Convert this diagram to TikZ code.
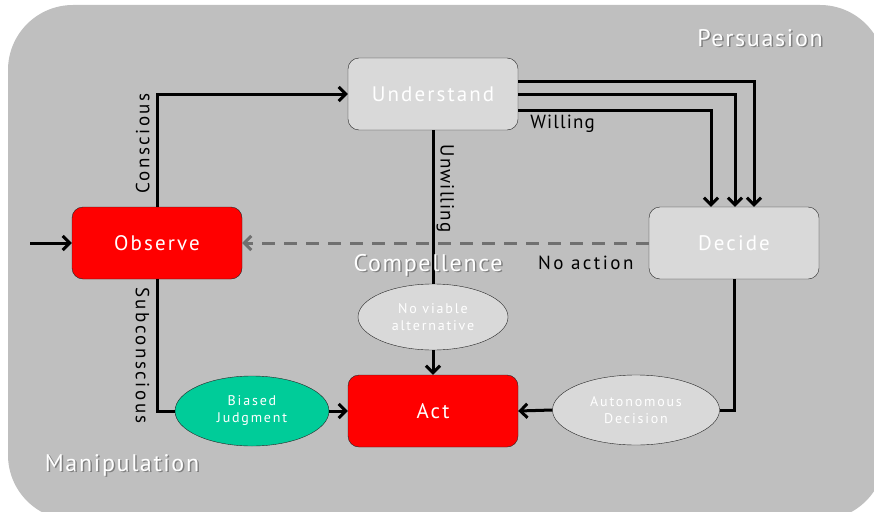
\documentclass[tikz,border=0pt]{standalone}
\usepackage{fontspec}
\setmainfont{PT Sans}
\usetikzlibrary{arrows.meta,positioning,shapes.geometric}

\definecolor{panelgray}{HTML}{BFBFBF}
\definecolor{boxgray}{HTML}{D9D9D9}
\definecolor{actred}{HTML}{FF0000}
\definecolor{biasgreen}{HTML}{00CC99}
\definecolor{dashgray}{HTML}{707070}

\tikzset{
  stage/.style={draw=black!85, thin, rounded corners=11pt, minimum width=170pt,
    minimum height=72pt, text=white,
    font=\fontsize{21}{23}\selectfont\addfontfeature{LetterSpace=10}},
  redstage/.style={stage, fill=actred},
  graystage/.style={stage, fill=boxgray},
  oval/.style={ellipse, draw=black!85, thin, fill=boxgray, text=white, align=center,
    inner sep=0pt, font=\fontsize{14}{17}\selectfont\addfontfeature{LetterSpace=13}},
  flow/.style={line width=3pt, -{Straight Barb[length=7pt,width=14pt,line width=3pt]}},
  edge/.style={line width=3pt},
  noaction/.style={line width=3pt, dashgray, dash pattern=on 13pt off 9pt,
    -{Straight Barb[length=7pt,width=14pt,line width=3pt]}},
  tag/.style={text=black, inner sep=2pt,
    font=\fontsize{19}{21}\selectfont\addfontfeature{LetterSpace=13}},
  tighttag/.style={tag, font=\fontsize{19}{21}\selectfont\addfontfeature{LetterSpace=6}},
  zone/.style={text=white, font=\fontsize{24}{26}\selectfont\addfontfeature{LetterSpace=7}},
  zoneshadow/.style={zone, text=black!50},
}
\newcommand{\zonelabel}[3]{%
  \node[zoneshadow] at ([shift={(1.5pt,-1.5pt)}]#1) {#3};
  \node[zone] (#2) at (#1) {#3};
}

\begin{document}
\begin{tikzpicture}[x=1pt, y=-1pt]
\useasboundingbox (0,0) rectangle (874,511);
% panel
\fill[panelgray, rounded corners=65pt] (8,5) rectangle (885,520);

% stages
\node[redstage] (observe) at (157,243) {Observe};
\node[graystage] (understand) at (433,94) {Understand};
\node[graystage] (decide) at (734,243) {Decide};
\node[redstage] (act) at (433,411) {Act};

% outcomes
\node[oval, minimum width=150pt, minimum height=66pt] (viable) at (433,317) {No viable\\alternative};
\node[oval, fill=biasgreen, minimum width=154pt, minimum height=70pt] (biased) at (252,411) {Biased\\Judgment};
\node[oval, minimum width=167pt, minimum height=70pt] (autonomous) at (636,410) {Autonomous\\Decision};

% connectors
\coordinate (start) at (30,243);
\draw[flow] (start) -- (observe.west);
\draw[noaction] (decide.west) -- (observe.east)
  node[tag, pos=0.155, below=9pt] (noactlabel) {No action};
\draw[flow] (observe.north) |- (understand.west)
  node[tag, pos=0.28, sloped, above=4pt] (conslabel) {Conscious};
\draw[edge] (observe.south) |- (biased.west)
  node[tag, pos=0.29, sloped, below=4pt] (subconslabel) {Subconscious};
\draw[flow] (biased.east) -- (act.west);
\draw[edge] (understand.south) -- (viable.north)
  node[tighttag, pos=0.38, sloped, above=0pt] (unwilllabel) {Unwilling};
\draw[flow] (viable.south) -- (act.north);
\draw[flow] ([yshift=13pt]understand.east) -| ([xshift=20pt]decide.north);
\draw[flow] ([yshift=0pt]understand.east) -| ([xshift=1pt]decide.north);
\draw[flow] ([yshift=-16pt]understand.east) -| ([xshift=-23pt]decide.north)
  node[tighttag, pos=0.115, below=2pt] (willlabel) {Willing};
\draw[edge] (decide.south) |- (autonomous.east);
\draw[flow] (autonomous.west) -- (act.east);

% zones
\zonelabel{760,38}{persuasion}{Persuasion}
\zonelabel{122,465}{manipulation}{Manipulation}
\zonelabel{428,265}{compellence}{Compellence}
\end{tikzpicture}
\end{document}
